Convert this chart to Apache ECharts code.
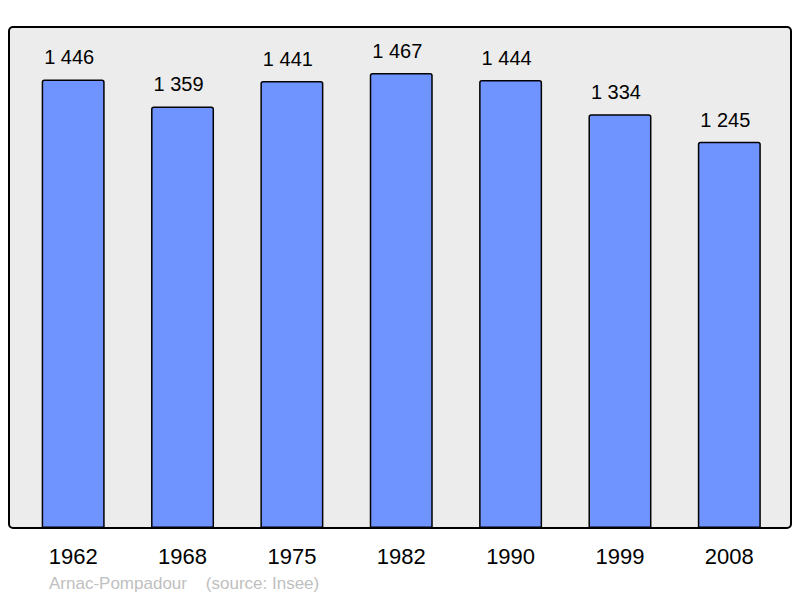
<!DOCTYPE html>
<html><head><meta charset="utf-8">
<script src="https://cdn.jsdelivr.net/npm/echarts@6/dist/echarts.min.js"></script>
<style>html,body{margin:0;padding:0;background:#fff}#c{width:800px;height:598px}</style>
</head><body><div id="c"></div>
<script>
const years = ['1962','1968','1975','1982','1990','1999','2008'];
const population = [1446, 1359, 1441, 1467, 1444, 1334, 1245];
const footer = 'Arnac-Pompadour    (source: Insee)';

const fmt = v => String(v).replace(/\B(?=(\d{3})+(?!\d))/g, ' ');
const chart = echarts.init(document.getElementById('c'), null, {renderer:'svg'});
chart.setOption({
  animation:false,
  backgroundColor:'#fff',
  textStyle:{fontFamily:'Liberation Sans, Arial, sans-serif'},
  graphic:[
    {type:'rect', z:-10, shape:{x:9, y:27, width:782, height:501, r:4},
     style:{fill:'#ececec', stroke:'#000', lineWidth:2}},
    {type:'text', left:49, top:575, style:{text:footer, fill:'#c0c0c0', font:'17px Liberation Sans, Arial, sans-serif'}}
  ],
  grid:{left:18.5, right:16, top:27, bottom:70},
  xAxis:{type:'category', data:years, axisLine:{show:false}, axisTick:{show:false},
    axisLabel:{fontSize:22, color:'#000', margin:17}},
  yAxis:{type:'value', min:0, max:1615, show:false, splitLine:{show:false}},
  series:[{type:'bar', data:population, barWidth:63,
    itemStyle:{color:'#7094ff', borderColor:'#000', borderWidth:1.5, borderRadius:[2,2,0,0]},
    label:{show:true, position:'top', distance:12, offset:[-4,0], fontSize:20, color:'#000', formatter:p=>fmt(p.value)}}]
});
</script></body></html>
